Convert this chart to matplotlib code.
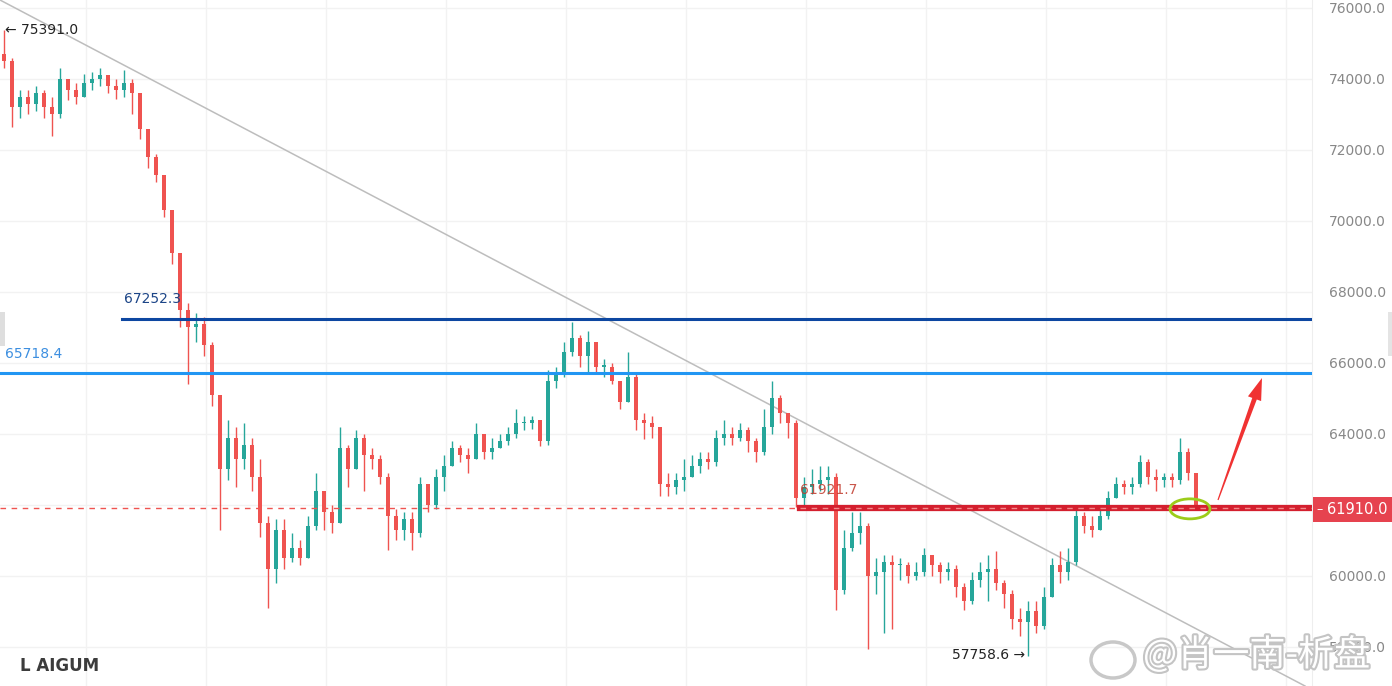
import numpy as np
import matplotlib
matplotlib.use("Agg")
import matplotlib.pyplot as plt
import matplotlib.patches as mpatches
import matplotlib.patheffects as pe

plt.rcParams['font.family'] = ['DejaVu Sans', 'Noto Sans CJK SC']

# candle data (open of each bar = previous close)
first_open = 74700
closes = [74500, 73200, 73500, 73300, 73600, 73200, 73000, 74000, 73700, 73500,
          73900, 74000, 74100, 73800, 73700, 73900, 73600, 72600, 71800, 71300,
          70300, 69100, 67500, 67000, 67100, 66500, 65100, 63000, 63900, 63300,
          63700, 62800, 61500, 60200, 61300, 60500, 60800, 60500, 61400, 62400,
          61800, 61500, 63600, 63000, 63900, 63400, 63300, 62800, 61700, 61300,
          61600, 61200, 62600, 62000, 62800, 63100, 63600, 63400, 63300, 64000,
          63500, 63600, 63800, 64000, 64300, 64300, 64400, 63800, 65500, 65700,
          66300, 66700, 66200, 66600, 65900, 65900, 65500, 64900, 65600, 64400,
          64300, 64200, 62600, 62500, 62700, 62800, 63100, 63300, 63200, 63900,
          64000, 63900, 64100, 63800, 63500, 64200, 65000, 64600, 64300, 62200,
          62500, 62600, 62700, 62800, 59600, 60800, 61200, 61400, 60000, 60100,
          60400, 60300, 60300, 60000, 60100, 60600, 60300, 60100, 60200, 59700,
          59300, 59900, 60100, 60200, 59800, 59500, 58800, 58700, 59000, 58600,
          59400, 60300, 60100, 60400, 61700, 61400, 61300, 61700, 62200, 62600,
          62500, 62600, 63200, 62800, 62700, 62800, 62700, 63500, 62900, 61950]
highs = [75391, 74600, 73700, 73700, 73800, 73700, 73500, 74300, 74000, 73900,
         74150, 74200, 74300, 74100, 74000, 74250, 74000, 73600, 72600, 71900,
         71300, 70300, 69100, 67700, 67400, 67300, 66600, 65100, 64400, 64200,
         64300, 63900, 63300, 61700, 61600, 61600, 61200, 61000, 61700, 62900,
         62400, 62000, 64200, 63700, 64100, 64000, 63600, 63400, 62900, 61900,
         61800, 61800, 62800, 62600, 63000, 63400, 63800, 63700, 63600, 64300,
         64000, 63900, 64000, 64200, 64700, 64500, 64500, 64400, 65800, 65900,
         66600, 67150, 66800, 66900, 66600, 66100, 66000, 65500, 66300, 65700,
         64600, 64500, 64200, 62900, 62900, 63300, 63400, 63500, 63500, 64100,
         64400, 64200, 64300, 64200, 63900, 64700, 65500, 65100, 64600, 64400,
         62800, 63000, 63100, 63100, 62900, 61300, 61800, 61800, 61500, 60500,
         60600, 60600, 60500, 60400, 60400, 60800, 60600, 60400, 60400, 60300,
         59800, 60100, 60400, 60600, 60700, 59900, 59600, 59100, 59300, 59300,
         59700, 60500, 60700, 60800, 62000, 61800, 61700, 61900, 62400, 62800,
         62700, 62800, 63400, 63300, 63000, 62900, 62900, 63900, 63600, 62900]
lows = [74300, 72650, 72900, 73000, 73100, 72900, 72400, 72900, 73400, 73300,
        73500, 73700, 73800, 73600, 73450, 73500, 73000, 72300, 71500, 71100,
        70100, 68800, 67000, 65400, 66600, 66200, 64800, 61300, 62700, 62500,
        63000, 62400, 61100, 59100, 59800, 60200, 60400, 60300, 60500, 61300,
        61300, 61200, 61500, 62500, 63000, 62400, 63000, 62600, 60730, 61000,
        61000, 60730, 61100, 61800, 61900, 62400, 63100, 63200, 62900, 63300,
        63300, 63300, 63600, 63700, 63900, 64100, 64150, 63650, 63700, 65300,
        65600, 66200, 65900, 65700, 65700, 65600, 65400, 64700, 64900, 64100,
        63850, 63900, 62250, 62250, 62300, 62400, 62800, 62900, 63000, 63100,
        63700, 63700, 63800, 63500, 63200, 63400, 64000, 64300, 63900, 61950,
        62000, 62300, 62400, 62300, 59050, 59500, 60700, 60900, 57950, 59500,
        58400, 58500, 59900, 59800, 59900, 60000, 60000, 59800, 59900, 59400,
        59050, 59200, 59700, 59300, 59600, 59100, 58500, 58300, 57759, 58400,
        58500, 59400, 59800, 59900, 60300, 61200, 61100, 61300, 61600, 62200,
        62300, 62300, 62500, 62600, 62400, 62500, 62500, 62600, 62700, 61910]

level_top = 67252.3
level_mid = 65718.4
level_now = 61910.0
level_box = 61921.7
price_high = 75391.0
price_low = 57758.6
yticks = [58000, 60000, 62000, 64000, 66000, 68000, 70000, 72000, 74000, 76000]

W, H = 1392, 686
fig = plt.figure(figsize=(W / 100, H / 100), dpi=100)
PW = 1312
ax = fig.add_axes([0, 0, PW / W, 1])

closes = np.array(closes, dtype=float)
opens = np.concatenate([[first_open], closes[:-1]])
highs = np.array(highs, dtype=float)
lows = np.array(lows, dtype=float)
idx = np.arange(len(closes))
up = closes >= opens
green, red = '#26a69a', '#ef5350'
cols = np.where(up, green, red)

ax.vlines(idx, lows, highs, colors=cols, linewidth=1.0, zorder=3)
body_bot = np.minimum(opens, closes)
body_h = np.maximum(np.abs(closes - opens), 30)
ax.bar(idx, body_h, bottom=body_bot, width=0.42, color=cols, linewidth=0, zorder=3)

# px -> data helpers (x spacing 8px per bar, first bar at 4px)
def xd(px):
    return (px - 4) / 8.0

ax.set_xlim(xd(0), xd(PW))
ax.set_ylim(56900, 76225)

# grid
ax.set_xticks([xd(86 + 120 * k) for k in range(11)])
ax.set_yticks(yticks)
ax.grid(True, color='#f2f2f2', linewidth=1, zorder=0)
ax.tick_params(axis='x', length=0, labelbottom=False)
ax.yaxis.tick_right()
ax.tick_params(axis='y', length=0, pad=12, labelcolor='#888888', labelsize=10)
# 62000 label sits under the price tag
ax.set_yticklabels(['' if v == 62000 else '%.1f' % v for v in yticks])
for s in ['top', 'left', 'bottom']:
    ax.spines[s].set_visible(False)
ax.spines['right'].set_color('#eeeeee')

# trend line
ax.plot([0, 1305 / PW], [1, 0], transform=ax.transAxes, color='#bdbdbd', lw=1.1, zorder=2)

# horizontal levels
ax.axhline(level_top, xmin=122 / PW, xmax=1, color='#0d47a1', lw=2.2, zorder=4)
ax.axhline(level_mid, xmin=0, xmax=1, color='#2196f3', lw=2.2, zorder=4)
ax.axhline(level_now, xmin=0, xmax=800 / PW, color='#ef5350', lw=1, dashes=(4, 4), zorder=4)
ax.axhline(level_now, xmin=800 / PW, xmax=1, color='#d41f2e', lw=4.5, zorder=4)
ax.axhline(level_now, xmin=800 / PW, xmax=1, color='#f28a8a', lw=1, dashes=(4, 4), zorder=5)

ax.text(xd(124), level_top + 540, '%.1f' % level_top, color='#1c4587', fontsize=10,
        ha='left', va='center', zorder=6)
ax.text(xd(5), level_mid + 540, '%.1f' % level_mid, color='#3d8fe0', fontsize=10,
        ha='left', va='center', zorder=6)
ax.text(xd(800), level_box + 500, '%.1f' % level_box, color='#c0392b', fontsize=10,
        ha='left', va='center', alpha=0.85, zorder=6)
ax.text(xd(5), price_high, '\u2190 %.1f' % price_high, color='#222222', fontsize=10,
        ha='left', va='center', zorder=6)
ax.text(xd(1025), price_low + 20, '%.1f \u2192' % price_low, color='#222222', fontsize=10,
        ha='right', va='center', zorder=6)

# green ellipse
ax.add_patch(mpatches.Ellipse((xd(1190), level_now - 20), 40 / 8, 20 * 28.17,
                              fill=False, edgecolor='#9ccc1a', lw=2, zorder=7))

def fig_pt(px, py):
    return (px / W, 1 - py / H)

# red arrow (image px)
tail = np.array([1218.0, 500.0])
tip = np.array([1262.0, 378.0])
u = (tip - tail) / np.linalg.norm(tip - tail)
n = np.array([-u[1], u[0]])
base = tip - 22 * u
pts = [tail + 0.6 * n, base + 2.4 * n, base + 7 * n, tip,
       base - 7 * n, base - 2.4 * n, tail - 0.6 * n]
fig.patches.append(mpatches.Polygon([fig_pt(*p) for p in pts], closed=True,
                                    transform=fig.transFigure, facecolor='#f03232',
                                    edgecolor='none', zorder=8))

# right price tag
fig.patches.append(mpatches.Rectangle(fig_pt(1313, 522), 79 / W, 25 / H,
                                      transform=fig.transFigure, facecolor='#e6434f',
                                      edgecolor='none', zorder=8))
fig.text(1316 / W, 1 - 509.5 / H, '\u2013', color='white', fontsize=9, va='center',
         ha='left', zorder=10)
fig.text(1327 / W, 1 - 509.5 / H, '%.1f' % level_now, color='white', fontsize=10.5,
         va='center', ha='left', zorder=10)

# side tabs
fig.patches.append(mpatches.Rectangle(fig_pt(0, 346), 5 / W, 34 / H, transform=fig.transFigure,
                                      facecolor='#dedede', edgecolor='none'))
fig.patches.append(mpatches.Rectangle(fig_pt(1388, 356), 4 / W, 44 / H, transform=fig.transFigure,
                                      facecolor='#e4e4e4', edgecolor='none'))

# bottom-left logo (blurred)
fig.text(20 / W, 1 - 666 / H, 'L AIGUM', color='#1a1a1a', fontsize=12, fontweight='bold',
         va='center', ha='left', alpha=0.85)

# watermark
fig.patches.append(mpatches.Ellipse(fig_pt(1113, 660), 44 / W, 36 / H, transform=fig.transFigure,
                                    fill=False, edgecolor='#c8c8c8', lw=2.5, zorder=9))
wm = fig.text(1143 / W, 1 - 655 / H, '@肖一南-析盘', fontsize=26, color='white',
              family=['Noto Sans CJK SC', 'DejaVu Sans'], va='center', ha='left', zorder=9)
wm.set_path_effects([pe.withStroke(linewidth=3, foreground='#c4c4c4')])

fig.savefig('out.png', dpi=100)
